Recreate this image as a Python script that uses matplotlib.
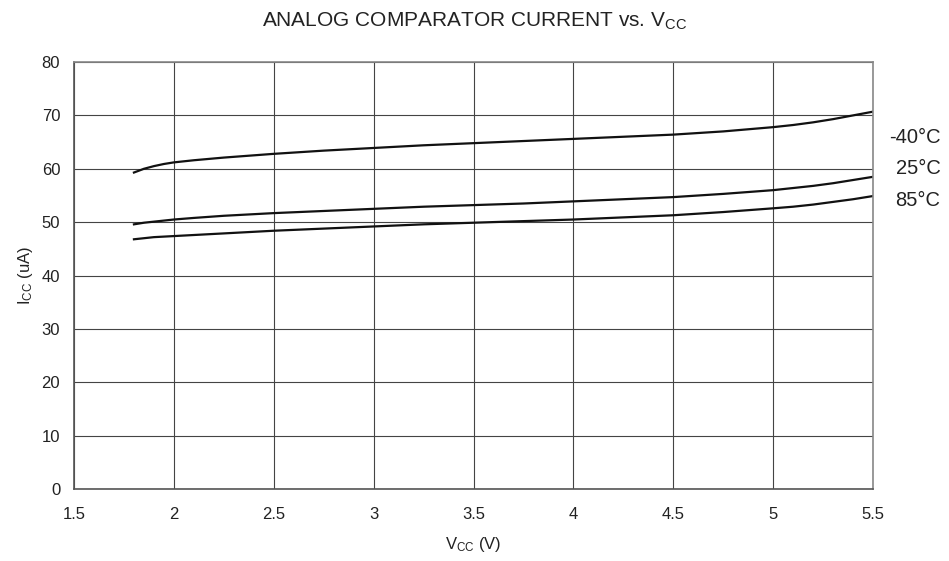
import numpy as np
import matplotlib
matplotlib.use("Agg")
import matplotlib.pyplot as plt

plt.rcParams['font.family'] = ['Liberation Sans', 'DejaVu Sans']
plt.rcParams['mathtext.fontset'] = 'custom'
plt.rcParams['mathtext.rm'] = 'Liberation Sans'

# Supply voltage (V)
vcc = [1.8, 1.85, 1.9, 1.95, 2.0, 2.1, 2.25, 2.5, 2.75, 3.0, 3.25, 3.5,
       3.75, 4.0, 4.25, 4.5, 4.75, 5.0, 5.1, 5.2, 5.3, 5.4, 5.5]

# Supply current (uA) per temperature
i_m40 = [59.3, 60.0, 60.5, 60.9, 61.2, 61.6, 62.1, 62.8, 63.4, 63.9, 64.4, 64.8,
         65.2, 65.6, 66.0, 66.4, 67.0, 67.8, 68.2, 68.7, 69.3, 70.0, 70.7]
i_25 = [49.6, 49.9, 50.1, 50.3, 50.5, 50.8, 51.2, 51.7, 52.1, 52.5, 52.9, 53.2,
        53.5, 53.9, 54.3, 54.7, 55.3, 56.0, 56.4, 56.8, 57.3, 57.9, 58.5]
i_85 = [46.8, 47.0, 47.2, 47.3, 47.4, 47.6, 47.9, 48.4, 48.8, 49.2, 49.6, 49.9,
        50.2, 50.5, 50.9, 51.3, 51.9, 52.6, 52.9, 53.3, 53.8, 54.3, 54.9]

labels = ['-40°C', '25°C', '85°C']
label_y = [65.9, 60.1, 54.1]

xticks = [1.5, 2, 2.5, 3, 3.5, 4, 4.5, 5, 5.5]
xticklabels = ['1.5', '2', '2.5', '3', '3.5', '4', '4.5', '5', '5.5']
yticks = [0, 10, 20, 30, 40, 50, 60, 70, 80]

fig = plt.figure(figsize=(9.49, 5.61), dpi=100)
ax = fig.add_axes([0.078, 0.128, 0.842, 0.7615])

for vals, lab, ly in zip([i_m40, i_25, i_85], labels, label_y):
    ax.plot(vcc, vals, color='#111111', lw=1.6)
    ax.annotate(lab, xy=(1.0, ly), xycoords=('axes fraction', 'data'),
                xytext=(48.5, 0), textcoords='offset points',
                fontsize=14.5, color='#222222', va='center', ha='right')

ax.set_xlim(1.5, 5.5)
ax.set_ylim(0, 80)
ax.set_xticks(xticks)
ax.set_xticklabels(xticklabels)
ax.set_yticks(yticks)
ax.grid(True, color='#444444', lw=0.8)
ax.tick_params(length=0, labelsize=12, colors='#222222')
ax.tick_params(axis='x', pad=13)
ax.tick_params(axis='y', pad=10)
for s in ax.spines.values():
    s.set_color('#888888')
    s.set_linewidth(1.2)
ax.spines['left'].set_color('#555555')
ax.spines['bottom'].set_color('#555555')

ax.set_xlabel(r'$\mathregular{V_{CC}}$ (V)', fontsize=12, color='#222222', labelpad=9)
ax.set_ylabel(r'$\mathregular{I_{CC}}$ (uA)', fontsize=12, color='#222222', labelpad=5)
fig.text(0.5, 0.962, r'ANALOG COMPARATOR CURRENT vs. $\mathregular{V_{CC}}$',
         ha='center', va='center', fontsize=15, color='#222222')

fig.savefig('out.png', dpi=100)
